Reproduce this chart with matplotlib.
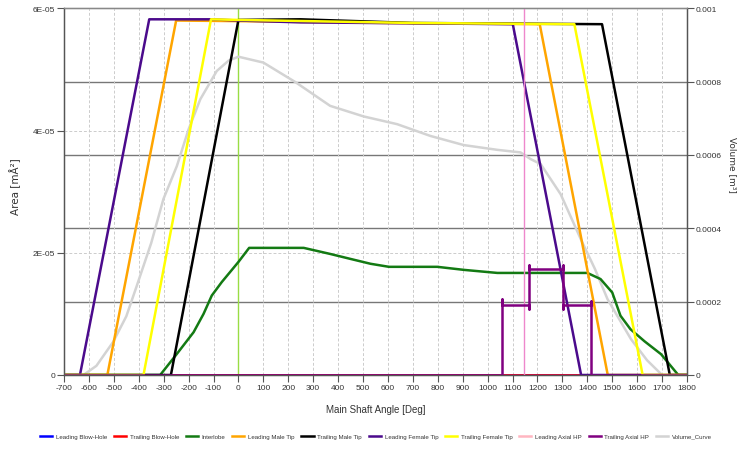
import numpy as np
import matplotlib
matplotlib.use("Agg")
import matplotlib.pyplot as plt

# angle [deg] / area [1e-5 m2]
blow_x = [-700, 1800]
blow_y = [0, 0]

interlobe_x = [-700, -314, -250, -180, -140, -107, -67, 0, 43, 150, 262, 369, 449, 530, 604,
               700, 798, 905, 1039, 1172, 1300, 1400, 1453, 1500, 1533, 1573, 1630, 1696, 1765, 1800]
interlobe_y = [0, 0, 0.33, 0.70, 1.0, 1.30, 1.52, 1.85, 2.08, 2.08, 2.08, 1.98, 1.90, 1.82, 1.77,
               1.77, 1.77, 1.72, 1.67, 1.67, 1.67, 1.67, 1.57, 1.35, 0.97, 0.75, 0.55, 0.34, 0, 0]

lead_male_x = [-700, -526, -250, 0, 600, 1209, 1482, 1800]
lead_male_y = [0, 0, 5.80, 5.79, 5.76, 5.74, 0, 0]

trail_male_x = [-700, -271, 0, 250, 700, 1459, 1731, 1800]
trail_male_y = [0, 0, 5.81, 5.82, 5.76, 5.74, 0, 0]

lead_female_x = [-700, -636, -358, -110, 0, 250, 1101, 1375, 1800]
lead_female_y = [0, 0, 5.82, 5.82, 5.80, 5.77, 5.74, 0, 0]

trail_female_x = [-700, -381, -110, 0, 700, 1348, 1622, 1800]
trail_female_y = [0, 0, 5.82, 5.81, 5.76, 5.74, 0, 0]

lead_axial_x = [1145, 1145]
lead_axial_y = [0, 6.0]

trail_axial_x = [-700, 1058, 1058, 1058, 1166, 1166, 1166, 1166, 1304, 1304, 1304, 1304, 1413, 1413, 1413, 1800]
trail_axial_y = [0, 0, 1.25, 1.15, 1.15, 1.08, 1.80, 1.73, 1.73, 1.80, 1.08, 1.15, 1.15, 1.21, 0, 0]

# volume [1e-3 m3]
vol_x = [-622, -570, -503, -450, -408, -350, -301, -247, -200, -153, -87, -40, 0, 100, 228, 368, 503,
         637, 770, 904, 1039, 1132, 1172, 1213, 1293, 1374, 1430, 1481, 1530, 1575, 1640, 1700]
vol_y = [0, 0.025, 0.09, 0.16, 0.243, 0.36, 0.48, 0.57, 0.67, 0.752, 0.829, 0.857, 0.868, 0.852, 0.799,
         0.734, 0.705, 0.684, 0.652, 0.627, 0.614, 0.607, 0.589, 0.575, 0.493, 0.37, 0.29, 0.207, 0.15,
         0.098, 0.04, 0.0]

xticks = list(range(-700, 1801, 100))

tick_font = dict(family="Liberation Sans", size=6, color="#333333")

fig = plt.figure(figsize=(7.4, 4.52), dpi=100)
ax = fig.add_axes([64 / 740, 1 - 376 / 452, (687 - 64) / 740, (376 - 9.3) / 452])
ax2 = ax.twinx()
ax.set_zorder(ax2.get_zorder() + 1)
ax.patch.set_visible(False)

# grids
for v in xticks[1:-1]:
    ax.axvline(v, color="#cccccc", lw=0.7, ls=(0, (3, 2)), zorder=0)
for v in [2e-5, 4e-5]:
    ax.axhline(v, color="#cccccc", lw=0.7, ls=(0, (3, 2)), zorder=0)
for v in [0.0002, 0.0004, 0.0006, 0.0008]:
    ax2.axhline(v, color="#777777", lw=1.0, zorder=0)

ax.axvline(0, color="#99dd44", lw=1.0, zorder=1)

s = 1e-5
h = {}
h["Leading Blow-Hole"], = ax.plot(blow_x, np.array(blow_y) * s, color="#0000ff", lw=1.8)
h["Trailing Blow-Hole"], = ax.plot(blow_x, np.array(blow_y) * s, color="#ff0000", lw=1.8)
h["Volume_Curve"], = ax.plot(vol_x, np.array(vol_y) * 1e-3 * 0.06, color="#d3d3d3", lw=1.8)
h["Interlobe"], = ax.plot(interlobe_x, np.array(interlobe_y) * s, color="#137a13", lw=1.8)
h["Leading Male Tip"], = ax.plot(lead_male_x, np.array(lead_male_y) * s, color="#ffa500", lw=1.8)
h["Trailing Male Tip"], = ax.plot(trail_male_x, np.array(trail_male_y) * s, color="#000000", lw=1.8)
h["Leading Female Tip"], = ax.plot(lead_female_x, np.array(lead_female_y) * s, color="#4b0a8c", lw=1.8)
h["Trailing Female Tip"], = ax.plot(trail_female_x, np.array(trail_female_y) * s, color="#ffff00", lw=1.8)
ax.plot(lead_axial_x, np.array(lead_axial_y) * s, color="#ee88cc", lw=1.0)
h["Leading Axial HP"], = ax.plot([], [], color="#ffb6c1", lw=1.8)
h["Trailing Axial HP"], = ax.plot(trail_axial_x, np.array(trail_axial_y) * s, color="#800080", lw=1.8)

ax.set_xlim(-700, 1800)
ax.set_ylim(0, 6e-5)
ax2.set_ylim(0, 0.001)

ax.set_xticks(xticks)
ax.set_xticklabels([str(v) for v in xticks], fontdict=tick_font)
ax.set_yticks([0, 2e-5, 4e-5, 6e-5])
ax.set_yticklabels(["0", "2E-05", "4E-05", "6E-05"], fontdict=tick_font)
ax2.set_yticks([0, 0.0002, 0.0004, 0.0006, 0.0008, 0.001])
ax2.set_yticklabels(["0", "0.0002", "0.0004", "0.0006", "0.0008", "0.001"], fontdict=tick_font)

for a in (ax, ax2):
    a.tick_params(length=5, width=0.8, color="#555555", pad=1.5)
    for sp in a.spines.values():
        sp.set_color("#555555")
        sp.set_linewidth(0.9)
ax.spines["top"].set_color("#888888")

ax.set_xlabel("Main Shaft Angle [Deg]", fontsize=7, color="#333333", labelpad=9,
              family="Liberation Sans")
fig.text(15 / 740, 1 - 187 / 452, "Area [mÅ²]", rotation=90, ha="center", va="center",
         fontsize=7.5, color="#333333")
fig.text(732 / 740, 1 - 165 / 452, "Volume [m³]", rotation=270, ha="center", va="center",
         fontsize=6.5, color="#333333")

order = ["Leading Blow-Hole", "Trailing Blow-Hole", "Interlobe", "Leading Male Tip",
         "Trailing Male Tip", "Leading Female Tip", "Trailing Female Tip", "Leading Axial HP",
         "Trailing Axial HP", "Volume_Curve"]
fig.legend([h[k] for k in order], order, loc="center", bbox_to_anchor=(376 / 740, 1 - 437 / 452),
           ncol=10, frameon=False, prop=dict(family="Liberation Sans", size=4.4),
           handlelength=2.0, handletextpad=0.6, columnspacing=1.1, labelcolor="#333333",
           borderpad=0, borderaxespad=0)

fig.savefig("out.png", dpi=100)
